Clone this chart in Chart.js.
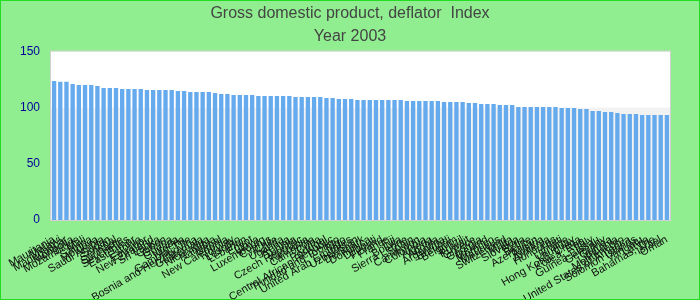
<!DOCTYPE html>
<html>
<head>
<meta charset="utf-8">
<script src="https://cdn.jsdelivr.net/npm/chart.js@4.4.1/dist/chart.umd.min.js"></script>
<style>
  html, body { margin: 0; padding: 0; }
  #wrap {
    width: 700px; height: 300px; box-sizing: border-box;
    border: 1px solid #22dd22; background: #90ee90;
  }
</style>
</head>
<body>
<div id="wrap"><canvas id="chart"></canvas></div>
<script>
const countries = [
  'Mauritania', 'Malawi', 'Madagascar', 'Mongolia', 'Mozambique', 'Mali', 'Samoa', 'Moldova', 'Saudi Arabia', 'Sudan',
  'Senegal', 'Suriname', 'Seychelles', 'East Timor', 'Estonia', 'Ecuador', 'New Zealand', 'Sri Lanka', 'Gabon', 'Ghana',
  'Guyana', 'Nigeria', 'Gambia, The', 'Bosnia and Herzegovina', 'Guatemala', 'Nicaragua', 'Namibia', 'Nepal', 'New Caledonia', 'Norway',
  'Lesotho', 'Lebanon', 'Egypt', 'Libya', 'Luxembourg', 'Cyprus', 'Chile', 'Uganda', 'Kenya', 'Tunisia',
  'Czech Republic', 'Tanzania', 'Cambodia', 'Cuba', 'Portugal', 'Central African Republic', 'Trinidad and Tobago', 'Togo', 'United Arab Emirates', 'Uzbekistan',
  'Denmark', 'Dominica', 'Djibouti', 'Finland', 'France', 'Fiji', 'Bolivia', 'Sierra Leone', 'Spain', 'Cameroon',
  'Colombia', 'Algeria', 'Angola', 'Argentina', 'Burundi', 'Belgium', 'Brazil', 'Kuwait', 'Greece', 'Georgia',
  'Iceland', 'Morocco', 'Mauritius', 'Switzerland', 'Malta', 'Slovakia', 'Syria', 'Belize', 'Azerbaijan', 'Austria',
  'Armenia', 'Honduras', 'Haiti', 'Ukraine', 'Uruguay', 'Hong Kong, China', 'Korea, Rep.', 'Italy', 'Guinea-Bissau', 'Germany',
  'Guinea', 'Lithuania', 'Montenegro', 'United States of America', 'Solomon Islands', 'Vanuatu', 'Latvia', 'Bahamas, The', 'Israel', 'Oman'
];

const deflator = [
  123.7, 122.9, 122.9, 121.1, 120.2, 120.2, 120.2, 119.3, 117.5, 117.5,
  117.5, 116.6, 116.6, 116.6, 116.6, 115.7, 115.7, 115.7, 115.7, 115.7,
  114.8, 114.8, 113.9, 113.9, 113.9, 113.9, 113.1, 112.2, 112.2, 111.3,
  111.3, 111.3, 111.3, 110.4, 110.4, 110.4, 110.4, 110.4, 110.4, 109.5,
  109.5, 109.5, 109.5, 109.5, 108.6, 108.6, 107.7, 107.7, 107.7, 106.8,
  106.8, 106.8, 106.8, 106.8, 106.8, 106.8, 106.8, 105.9, 105.9, 105.9,
  105.9, 105.9, 105.9, 105.0, 105.0, 105.0, 105.0, 104.2, 104.2, 103.3,
  103.3, 103.3, 102.4, 102.4, 102.4, 100.6, 100.6, 100.6, 100.6, 100.6,
  100.6, 100.6, 99.7, 99.7, 99.7, 98.8, 98.8, 97.0, 97.0, 96.1,
  96.1, 95.3, 94.4, 94.4, 94.4, 93.5, 93.5, 93.5, 93.5, 93.5
];

const yTicks = [0, 50, 100, 150];
const bandFrom = 0, bandTo = 100;

// white plot area, grey band under 100, thin frame
const plotBack = {
  id: 'plotBack',
  beforeDatasetsDraw(chart) {
    const { ctx, chartArea: a, scales: { y } } = chart;
    ctx.save();
    ctx.fillStyle = '#ffffff';
    ctx.fillRect(a.left, a.top, a.right - a.left, a.bottom - a.top);
    const y1 = y.getPixelForValue(bandTo), y0 = y.getPixelForValue(bandFrom);
    ctx.fillStyle = '#f2f2f2';
    ctx.fillRect(a.left, y1, a.right - a.left, y0 - y1);
    ctx.strokeStyle = '#d0d0d0';
    ctx.lineWidth = 1;
    ctx.strokeRect(a.left - 0.5, a.top - 0.5, a.right - a.left + 1, a.bottom - a.top + 1);
    ctx.restore();
  }
};

new Chart(document.getElementById('chart'), {
  type: 'bar',
  data: {
    labels: countries,
    datasets: [{
      data: deflator,
      backgroundColor: '#66aaee',
      barPercentage: 0.7,
      categoryPercentage: 1.0
    }]
  },
  options: {
    responsive: true,
    maintainAspectRatio: false,
    animation: false,
    layout: { padding: 0 },
    scales: {
      x: {
        grid: { display: false },
        border: { display: false },
        afterFit: (s) => { s.height = 79; },
        ticks: {
          autoSkip: false,
          maxRotation: 30,
          minRotation: 30,
          padding: 5,
          color: '#111',
          font: { family: 'Liberation Sans, Arial', size: 11 }
        }
      },
      y: {
        min: 0,
        max: 150,
        grid: { display: false },
        border: { display: false },
        afterFit: (s) => { s.width = 50; },
        afterBuildTicks: (s) => { s.ticks = yTicks.map(v => ({ value: v })); },
        ticks: {
          padding: 3,
          color: '#000099',
          font: { family: 'Liberation Sans, Arial', size: 12 }
        }
      },
      // empty right axis, only keeps the margin on the right
      yRight: {
        position: 'right',
        grid: { display: false },
        border: { display: false },
        ticks: { display: false },
        afterFit: (s) => { s.width = 29; }
      }
    },
    plugins: {
      legend: { display: false },
      tooltip: { enabled: false },
      title: {
        display: true,
        text: ['Gross domestic product, deflator  Index', 'Year 2003'],
        color: '#444',
        font: { family: 'Liberation Sans, Arial', size: 16, weight: 'normal', lineHeight: 1.45 },
        padding: { top: 1, bottom: 3 }
      }
    }
  },
  plugins: [plotBack]
});
</script>
</body>
</html>
